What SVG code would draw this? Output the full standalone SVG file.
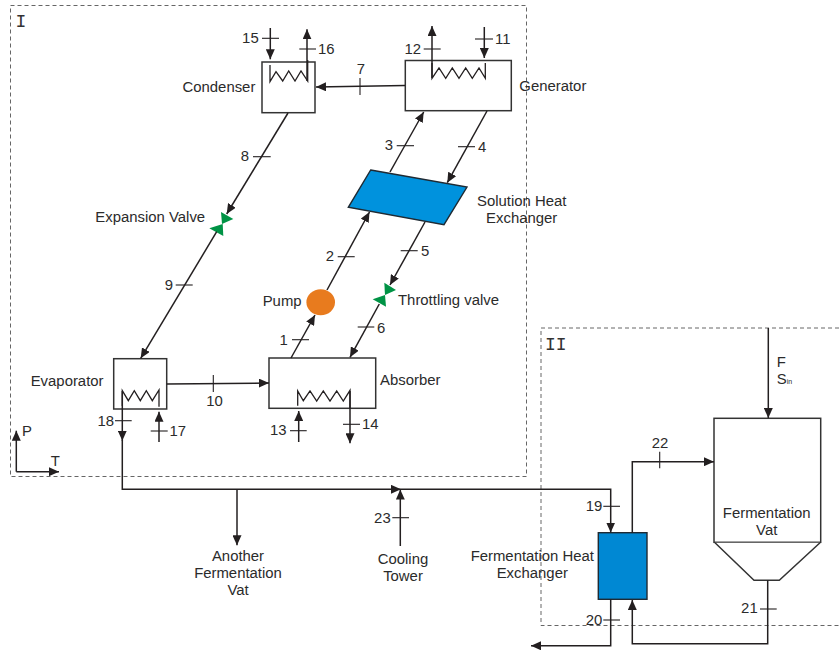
<svg xmlns="http://www.w3.org/2000/svg" width="839" height="653" viewBox="0 0 839 653">
<style>
text{font-family:"Liberation Sans",Arial,sans-serif;font-size:14.9px;fill:#2b2b2b}
.r{text-anchor:end}.m{text-anchor:middle}
.mono{font-family:"Liberation Mono","DejaVu Sans Mono",monospace;font-size:18px;fill:#333}
.l{fill:none;stroke:#231f20;stroke-width:1.5}
.a{marker-end:url(#arrow)}
.t{fill:none;stroke:#231f20;stroke-width:1.1}
.b{fill:#fff;stroke:#333;stroke-width:1.5}
.c{fill:none;stroke:#231f20;stroke-width:1.3}
.d{fill:none;stroke:#666;stroke-width:1;stroke-dasharray:4 3}
.hx{stroke:#1f2a33;stroke-width:1.4}
.v{fill:#009345}
</style>
<defs>
<marker id="arrow" markerUnits="userSpaceOnUse" markerWidth="10" markerHeight="9" refX="10" refY="4.500" orient="auto">
<path d="M0,0L10,4.500L0,9z" fill="#231f20"/>
</marker>
</defs>
<g id="boundaries">
<rect class="d" x="10.500" y="5.500" width="516" height="471"/>
<path class="d" d="M839,328H541V625.500H839"/>
<text class="mono" x="15.500" y="27">I</text>
<text class="mono" x="545" y="350">II</text>
</g>
<g id="condenser">
<rect class="b" x="262" y="62" width="53" height="50.700"/>
<path class="c" d="M270,65V81.700L276,71.700L282.700,81L288.700,71L295,81L301,71L307.700,81V60"/>
<text x="182.500" y="91.700">Condenser</text>
</g>
<g id="generator">
<rect class="b" x="405.300" y="60.500" width="106" height="50.200"/>
<path class="c" d="M432,63V78.300L439,68L445.700,78.300L452.300,68L459,78.300L465.700,68L472.300,78.300L479,68L485.300,78.300V63"/>
<text x="519.300" y="90.700">Generator</text>
</g>
<g id="solution-heat-exchanger">
<path class="hx" fill="#0092dd" d="M370.700,170L467,187L444,224.700L348.300,207.300z"/>
<text class="m" x="521.700" y="206">Solution Heat</text>
<text class="m" x="521.700" y="222.700">Exchanger</text>
</g>
<g id="expansion-valve">
<path class="v" d="M221,212L233.300,219L222,224z"/>
<path class="v" d="M209.300,228.300L222.700,224L223.300,236z"/>
<text x="95.300" y="222">Expansion Valve</text>
</g>
<g id="throttling-valve">
<path class="v" d="M384.300,282.700L396,290L385,295z"/>
<path class="v" d="M372.700,299.300L385,295L386,306.700z"/>
<text x="398" y="304.700">Throttling valve</text>
</g>
<g id="pump">
<ellipse cx="320.700" cy="302.300" rx="14.300" ry="13" fill="#e87b1e"/>
<text x="262.700" y="306">Pump</text>
</g>
<g id="evaporator">
<rect class="b" x="113.700" y="358.700" width="53" height="50.300"/>
<path class="c" d="M122.300,406V390.700L128.300,400.700L134.300,390.700L140.300,400.700L146.300,390.700L152.300,400.700L159,390V406.700"/>
<text x="30.700" y="385.700">Evaporator</text>
</g>
<g id="absorber">
<rect class="b" x="269" y="358" width="106.700" height="50.300"/>
<path class="c" d="M297.700,405.700V391L303.300,400.700L310,391L316.700,401L323.300,391L330,401L336.700,391L343.300,401L350,390.300V408"/>
<text x="380" y="385.300">Absorber</text>
</g>
<g id="fermentation-heat-exchanger">
<rect class="hx" fill="#0088d3" x="598.300" y="532.700" width="48.700" height="66.600"/>
<text class="m" x="532.300" y="561.300">Fermentation Heat</text>
<text class="m" x="532.300" y="578.300">Exchanger</text>
</g>
<g id="fermentation-vat">
<rect class="b" x="714" y="418.300" width="106.700" height="124"/>
<path class="b" d="M715,542.700L754,580.300H779.300L820,542.700"/>
<text class="m" x="766.700" y="517.700">Fermentation</text>
<text class="m" x="766.700" y="535">Vat</text>
</g>
<g id="another-fermentation-vat">
<text class="m" x="238" y="561.300">Another</text>
<text class="m" x="238" y="578.300">Fermentation</text>
<text class="m" x="238" y="595">Vat</text>
</g>
<g id="cooling-tower">
<text class="m" x="403" y="564.300">Cooling</text>
<text class="m" x="403" y="580.700">Tower</text>
</g>
<g id="axes">
<path class="l a" d="M16.300,471.700V430.700"/>
<path class="l a" d="M16.300,471.700H59"/>
<text x="22" y="435.700">P</text>
<text x="50.700" y="465.700">T</text>
</g>
<g id="connectors">
<path class="l a" d="M405,85.500L316,87"/><path class="t" d="M360,78V95"/>
<path class="l a" d="M288,113L226.700,214"/><path class="t" d="M253,156.700H270.700"/>
<path class="l a" d="M216.700,231.700L140.700,358.300"/><path class="t" d="M175.700,285H192.700"/>
<path class="l a" d="M166.700,384L269,383"/><path class="t" d="M213.300,375V392"/>
<path class="l a" d="M291,358L315,315"/><path class="t" d="M292,339.700H309"/>
<path class="l a" d="M327,290L369.500,212"/><path class="t" d="M337.700,256.700H354.700"/>
<path class="l a" d="M390,172L423.700,112"/><path class="t" d="M396.700,145.700H414"/>
<path class="l a" d="M487,111L447.300,182.700"/><path class="t" d="M458,146.700H475"/>
<path class="l a" d="M425,222L390,285"/><path class="t" d="M400.700,250.700H417.700"/>
<path class="l a" d="M379.300,304L350,357.300"/><path class="t" d="M357.700,327H374.300"/>
<path class="l a" d="M270.300,28V59.300"/><path class="t" d="M262,38.300H279"/>
<path class="l a" d="M307,81V29.300"/><path class="t" d="M299.300,49H316"/>
<path class="l a" d="M432,78V26"/><path class="t" d="M423.700,49H440.700"/>
<path class="l a" d="M484.300,27V58"/><path class="t" d="M475,39H493"/>
<path class="l a" d="M159,442V411.700"/><path class="t" d="M150.700,431H167.700"/>
<path class="l a" d="M122.300,391V440.700"/><path class="t" d="M115,420.700H131.700"/>
<path class="l a" d="M298.700,442V411"/><path class="t" d="M290,430.700H306.700"/>
<path class="l a" d="M350,391V443.300"/><path class="t" d="M343,424.300H360"/>
<path class="l a" d="M122.300,440V489.300H401"/>
<path class="l a" d="M401,489.300H610.700V532.500"/><path class="t" d="M603.300,506.300H620"/>
<path class="l a" d="M237,489.300V545.300"/>
<path class="l a" d="M400.300,546V489.600"/><path class="t" d="M392.300,517.700H409"/>
<path class="l a" d="M632.300,533V461.700H714"/><path class="t" d="M659.700,451.700V468.300"/>
<path class="l a" d="M768.300,328V418"/>
<path class="l a" d="M610.700,599.300V645.800H531"/><path class="t" d="M603.300,620H620"/>
<path class="l a" d="M767.700,580.300V643.700H632.300V600"/><path class="t" d="M760,609H776.700"/>
</g>
<g id="labels">
<text x="776.700" y="366.700">F</text>
<text x="776.700" y="384">S<tspan font-size="7">in</tspan></text>
<text class="r" x="287.700" y="345">1</text>
<text class="r" x="334" y="261">2</text>
<text class="r" x="393" y="150">3</text>
<text x="478" y="152">4</text>
<text x="421" y="256">5</text>
<text x="377" y="332.700">6</text>
<text class="m" x="361" y="74">7</text>
<text class="r" x="249" y="161">8</text>
<text class="r" x="173" y="290">9</text>
<text class="m" x="214.500" y="405.700">10</text>
<text x="495" y="44">11</text>
<text class="r" x="421" y="54">12</text>
<text class="r" x="286.500" y="434.700">13</text>
<text x="362" y="429.300">14</text>
<text class="r" x="258.700" y="42.700">15</text>
<text x="318" y="54.300">16</text>
<text x="169.500" y="435.700">17</text>
<text class="r" x="114" y="426">18</text>
<text class="r" x="602.300" y="510.700">19</text>
<text class="r" x="602.300" y="624.700">20</text>
<text class="r" x="757.700" y="613.300">21</text>
<text class="m" x="660" y="448">22</text>
<text class="r" x="390.700" y="522.700">23</text>
</g>
</svg>
